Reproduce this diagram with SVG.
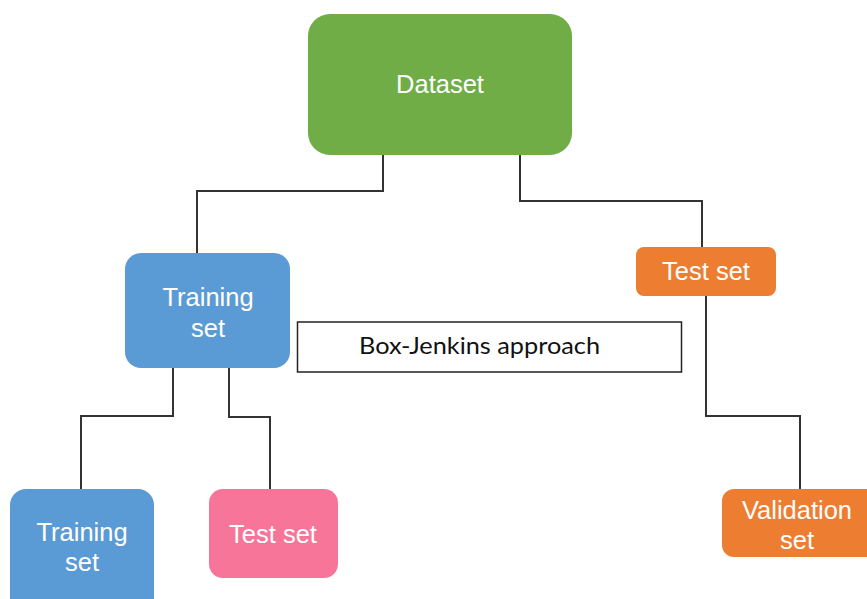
<svg xmlns="http://www.w3.org/2000/svg" width="867" height="599" viewBox="0 0 867 599">
<style>
.lbl{font-family:"Liberation Sans",Arial,sans-serif;font-size:25.5px;fill:#ffffff;text-anchor:middle}
.conn{fill:none;stroke:#333333;stroke-width:2}
</style>
<rect width="867" height="599" fill="#ffffff"/>
<g id="connectors">
<polyline class="conn" points="383,155 383,191 197,191 197,254"/>
<polyline class="conn" points="520,155 520,201 702,201 702,247"/>
<polyline class="conn" points="706,296 706,416 800,416 800,489"/>
<polyline class="conn" points="173,368 173,416 81,416 81,489"/>
<polyline class="conn" points="229,368 229,417 270,417 270,489"/>
</g>
<g id="dataset">
<rect x="308" y="14" width="264" height="141" rx="22" fill="#70AD47"/>
<text class="lbl" x="440" y="93">Dataset</text>
</g>
<g id="training1">
<rect x="125" y="253" width="165" height="115" rx="16" fill="#5B9BD5"/>
<text class="lbl" x="208" y="306">Training</text>
<text class="lbl" x="208" y="337">set</text>
</g>
<g id="boxjenkins">
<rect x="297.5" y="322" width="384" height="50" fill="#ffffff" stroke="#222222" stroke-width="1.5"/>
<text x="359" y="354" font-family="Lato,'Liberation Sans',sans-serif" font-size="23" fill="#111111" textLength="241" lengthAdjust="spacingAndGlyphs">Box-Jenkins approach</text>
</g>
<g id="testset1">
<rect x="636" y="247" width="140" height="49" rx="8" fill="#ED7D31"/>
<text class="lbl" x="706" y="280">Test set</text>
</g>
<g id="validation">
<rect x="722" y="489" width="160" height="68" rx="12" fill="#ED7D31"/>
<text class="lbl" x="797" y="519">Validation</text>
<text class="lbl" x="797" y="549">set</text>
</g>
<g id="training2">
<rect x="10" y="489" width="144" height="125" rx="16" fill="#5B9BD5"/>
<text class="lbl" x="82" y="541">Training</text>
<text class="lbl" x="82" y="571">set</text>
</g>
<g id="testset2">
<rect x="209" y="489" width="129" height="89" rx="14" fill="#F67599"/>
<text class="lbl" x="273" y="543">Test set</text>
</g>
</svg>
